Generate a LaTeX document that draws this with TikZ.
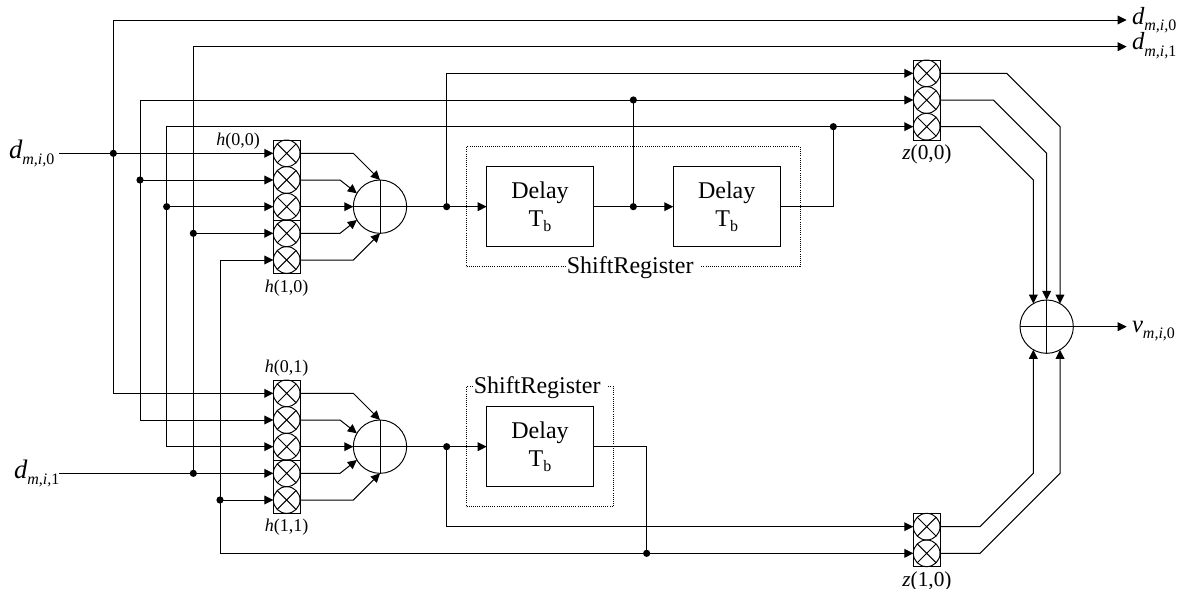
\documentclass[tikz,border=0pt]{standalone}
\usepackage{fontspec}
\setmainfont{Liberation Serif}
\usetikzlibrary{arrows.meta}
\newcommand{\sublab}[4][18.5]{\fontsize{#1}{20}\selectfont\itshape #2\raisebox{-4.6pt}{\fontsize{12}{12}\selectfont #3\upshape #4}}
\newcommand{\Tb}{T\raisebox{-3.2pt}{\fontsize{12}{12}\selectfont b}}
\tikzset{
  wire/.style={line width=0.75pt,black},
  arr/.style={wire,-{Triangle[length=6.8pt,width=6.6pt]}},
  mult/.style={circle,draw,line width=0.72pt,minimum size=20pt,inner sep=0pt,outer sep=0pt,
    path picture={\draw[line width=0.72pt] (path picture bounding box.north west)--(path picture bounding box.south east)
      (path picture bounding box.north east)--(path picture bounding box.south west);}},
  sumnode/.style={circle,draw,line width=0.72pt,minimum size=40pt,inner sep=0pt,outer sep=0pt,
    path picture={\draw[line width=0.72pt] (path picture bounding box.north)--(path picture bounding box.south)
      (path picture bounding box.east)--(path picture bounding box.west);}},
  bar/.style={rectangle,draw,line width=0.72pt,minimum width=20pt,inner sep=0pt,outer sep=0pt},
  delaybox/.style={rectangle,draw,line width=0.72pt,fill=white,minimum width=80pt,minimum height=60pt,inner sep=0pt,outer sep=0pt,align=center,
    font=\fontsize{18}{21}\selectfont},
  dotbox/.style={rectangle,draw,densely dotted,line width=0.6pt,inner sep=0pt,outer sep=0pt},
  jdot/.style={circle,fill=black,minimum size=5.4pt,inner sep=0pt,outer sep=0pt},
  reglabel/.style={anchor=base,fill=white,inner sep=0.5pt,font=\fontsize{18}{20}\selectfont},
  siglabel/.style={anchor=base west,inner sep=0pt,outer sep=0pt},
  smalllabel/.style={anchor=base,inner sep=0pt,outer sep=0pt,font=\fontsize{13.5}{14}\selectfont},
  zlabel/.style={anchor=base,inner sep=0pt,outer sep=0pt,font=\fontsize{16}{18}\selectfont}
}
\begin{document}
\begin{tikzpicture}[x=0.75pt,y=-0.75pt]
\useasboundingbox (0,0) rectangle (1186,589);
% bars
\node[bar,minimum height=100pt] (barA) at (286.67,206.67) {};
\node[bar,minimum height=100pt] (barB) at (286.67,446.67) {};
\node[bar,minimum height=60pt] (barZa) at (926.67,100) {};
\node[bar,minimum height=40pt] (barZb) at (926.67,540) {};
\draw[wire] (273.33,220)--(300,220) (273.33,460)--(300,460);
% multipliers
\node[mult] (a1) at (286.67,153.33) {};
\node[mult] (a2) at (286.67,180) {};
\node[mult] (a3) at (286.67,206.67) {};
\node[mult] (a4) at (286.67,233.33) {};
\node[mult] (a5) at (286.67,260) {};
\node[mult] (b1) at (286.67,393.33) {};
\node[mult] (b2) at (286.67,420) {};
\node[mult] (b3) at (286.67,446.67) {};
\node[mult] (b4) at (286.67,473.33) {};
\node[mult] (b5) at (286.67,500) {};
\node[mult] (z1) at (926.67,73.33) {};
\node[mult] (z2) at (926.67,100) {};
\node[mult] (z3) at (926.67,126.67) {};
\node[mult] (z4) at (926.67,526.67) {};
\node[mult] (z5) at (926.67,553.33) {};
% summers
\node[sumnode] (sumA) at (380,206.67) {};
\node[sumnode] (sumB) at (380,446.67) {};
\node[sumnode] (sumF) at (1046.67,326.67) {};
% shift registers
\node[dotbox,minimum width=250pt,minimum height=90pt] (srA) at (633.33,206.67) {};
\node[dotbox,minimum width=110pt,minimum height=90pt] (srB) at (540,446.67) {};
\node[reglabel] (srAl) at (633.5,273) {ShiftRegister\kern5pt};
\node[reglabel] (srBl) at (540.5,393) {ShiftRegister\kern5pt};
% delay boxes
\node[delaybox] (d1) at (540,206.67) {Delay\\\Tb};
\node[delaybox] (d2) at (726.67,206.67) {Delay\\\Tb};
\node[delaybox] (d3) at (540,446.67) {Delay\\\Tb};
% junction dots
\node[jdot] (j1) at (113.33,153.33) {};
\node[jdot] (j2) at (140,180) {};
\node[jdot] (j3) at (166.67,206.67) {};
\node[jdot] (j4) at (193.33,233.33) {};
\node[jdot] (j5) at (193.33,473.33) {};
\node[jdot] (j6) at (220,500) {};
\node[jdot] (j7) at (446.67,206.67) {};
\node[jdot] (j8) at (633.33,206.67) {};
\node[jdot] (j9) at (633.33,100) {};
\node[jdot] (j10) at (833.33,126.67) {};
\node[jdot] (j11) at (446.67,446.67) {};
\node[jdot] (j12) at (646.67,553.33) {};
% free ends
\coordinate (inA) at (59,153.33);
\coordinate (inB) at (59,473.33);
\coordinate (outA) at (1126.67,20);
\coordinate (outB) at (1126.67,46.67);
\coordinate (outV) at (1126.67,326.67);
% bus wires
\draw[arr] (j1.center) |- (outA);
\draw[arr] (j5.center) |- (outB);
\draw[arr] (j1.center) |- (b1.west);
\draw[wire] (j2.center) -- (140,100) -- (j9.center);
\draw[arr] (j9.center) -- (z2.west);
\draw[arr] (j2.center) -- (a2.west);
\draw[arr] (j2.center) |- (b2.west);
\draw[wire] (j3.center) -- (166.67,126.67) -- (j10.center);
\draw[arr] (j10.center) -- (z3.west);
\draw[arr] (j3.center) -- (a3.west);
\draw[arr] (j3.center) |- (b3.west);
\draw[arr] (inA) -- (a1.west);
\draw[arr] (j4.center) -- (a4.west);
\draw[arr] (inB) -- (b4.west);
\draw[arr] (j6.center) -- (b5.west);
\draw[arr] (j6.center) |- (a5.west);
\draw[arr] (j6.center) |- (z5.west);
% outputs of first multipliers
\draw[arr] (a1.east) -- (353.33,153.33) -- (sumA.north);
\draw[arr] (a2.east) -- (340,180) -- (sumA.150);
\draw[arr] (a3.east) -- (sumA.west);
\draw[arr] (a4.east) -- (340,233.33) -- (sumA.210);
\draw[arr] (a5.east) -- (353.33,260) -- (sumA.south);
\draw[arr] (b1.east) -- (353.33,393.33) -- (sumB.north);
\draw[arr] (b2.east) -- (340,420) -- (sumB.150);
\draw[arr] (b3.east) -- (sumB.west);
\draw[arr] (b4.east) -- (340,473.33) -- (sumB.210);
\draw[arr] (b5.east) -- (353.33,500) -- (sumB.south);
% shift register chain
\draw[arr] (sumA.east) -- (d1.west);
\draw[arr] (j7.center) |- (z1.west);
\draw[arr] (d1.east) -- (d2.west);
\draw[wire] (j8.center) -- (j9.center);
\draw[wire] (d2.east) -| (j10.center);
\draw[arr] (sumB.east) -- (d3.west);
\draw[arr] (j11.center) |- (z4.west);
\draw[wire] (d3.east) -| (j12.center);
% z outputs
\draw[arr] (z1.east) -- (1006.67,73.33) -- (1060,126.67) -- (sumF.60);
\draw[arr] (z2.east) -- (993.33,100) -- (1046.67,153.33) -- (sumF.north);
\draw[arr] (z3.east) -- (980,126.67) -- (1033.33,180) -- (sumF.120);
\draw[arr] (z4.east) -- (980,526.67) -- (1033.33,473.33) -- (sumF.240);
\draw[arr] (z5.east) -- (980,553.33) -- (1060,473.33) -- (sumF.300);
\draw[arr] (sumF.east) -- (outV);
% labels
\node[siglabel] (lA) at (9,158) {\sublab[20]{d}{m,i,}{0}};
\node[siglabel] (lB) at (14,478) {\sublab[20]{d}{m,i,}{1}};
\node[siglabel] (lC) at (1132,24) {\sublab{d}{m,i,}{0}};
\node[siglabel] (lD) at (1132,50) {\sublab{d}{m,i,}{1}};
\node[siglabel] (lE) at (1132,332) {\sublab{v}{m,i,}{0}};
\node[smalllabel] (h1) at (238,145) {\textit{h}(0,0)};
\node[smalllabel] (h2) at (286.67,292) {\textit{h}(1,0)};
\node[smalllabel] (h3) at (286.67,372) {\textit{h}(0,1)};
\node[smalllabel] (h4) at (286.67,531) {\textit{h}(1,1)};
\node[zlabel] (z00) at (927,159) {\textit{z}(0,0)};
\node[zlabel] (z10) at (927,586) {\textit{z}(1,0)};
\end{tikzpicture}
\end{document}
